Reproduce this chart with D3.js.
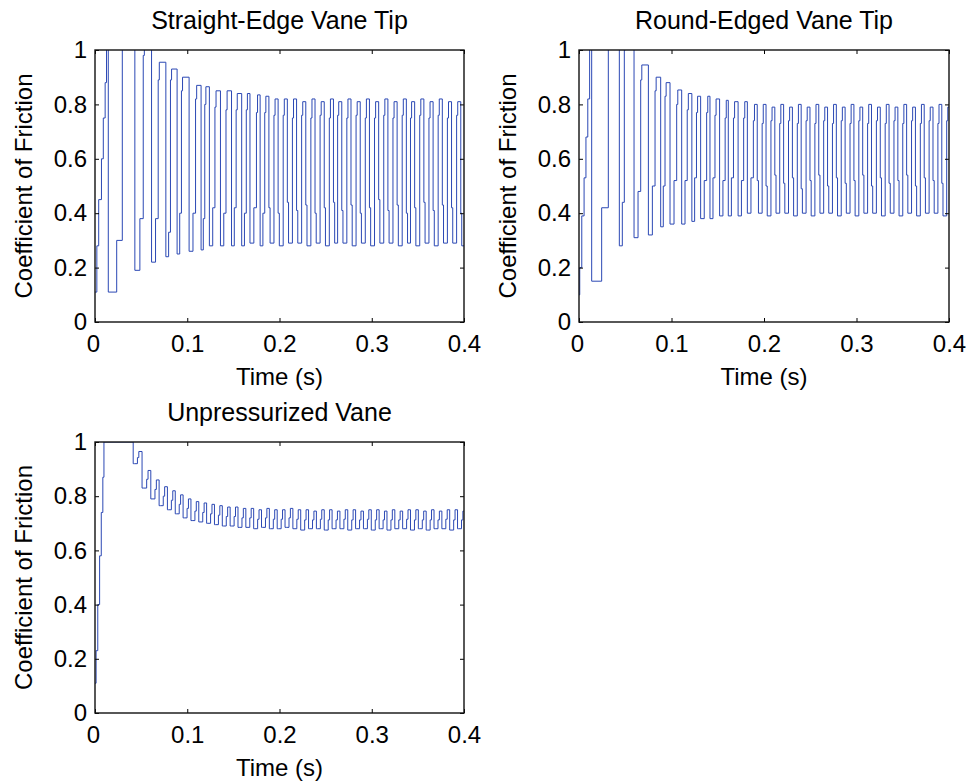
<!DOCTYPE html>
<html>
<head>
<meta charset="utf-8">
<script src="https://d3js.org/d3.v7.min.js"></script>
<style>
  body { margin: 0; background: #fff; }
  svg text { font-family: "Liberation Sans", Arial, sans-serif; fill: #000; }
</style>
</head>
<body>
<svg id="fig" width="970" height="783"></svg>
<script>
  var xTicks = [0, 0.1, 0.2, 0.3, 0.4];
  var yTicks = [0, 0.2, 0.4, 0.6, 0.8, 1];
  var titles = ["Straight-Edge Vane Tip", "Round-Edged Vane Tip", "Unpressurized Vane"];

  // ---- Straight-Edge Vane Tip ----
  // start-up climb (staircase)
  var rampT1 = [0, 0.002, 0.004, 0.007, 0.009, 0.011, 0.0125];
  var rampV1 = [0.11, 0.28, 0.45, 0.60, 0.75, 0.88, 1.05];
  // each cycle: fall -> drop level -> low level -> rise -> shoulder -> peak
  var fallT1 = [0.0144, 0.0432, 0.0613, 0.0768, 0.0890, 0.1020, 0.1150, 0.1240, 0.1360, 0.1480, 0.1590, 0.1680, 0.1790,
    0.1885, 0.1985, 0.2085, 0.2185, 0.2285, 0.2385, 0.2485, 0.2585, 0.2675, 0.2775, 0.2875, 0.2975, 0.3075,
    0.3175, 0.3275, 0.3375, 0.3465, 0.3565, 0.3665, 0.3765, 0.3865, 0.3965];
  var dropV1 = [0.11, 0.19, 0.22, 0.24, 0.25, 0.26, 0.265, 0.28, 0.28, 0.28, 0.28, 0.29, 0.28,
    0.42, 0.40, 0.44, 0.41, 0.43, 0.40, 0.42, 0.44, 0.41, 0.43, 0.40, 0.42, 0.45,
    0.41, 0.43, 0.40, 0.42, 0.44, 0.41, 0.43, 0.42, 0.40];
  var lowV1 = [0.30, 0.38, 0.38, 0.33, 0.40, 0.40, 0.38, 0.42, 0.40, 0.42, 0.40, 0.42, 0.40,
    0.29, 0.28, 0.29, 0.29, 0.28, 0.29, 0.28, 0.29, 0.29, 0.28, 0.29, 0.28, 0.29,
    0.29, 0.28, 0.29, 0.28, 0.29, 0.28, 0.29, 0.29, 0.28];
  var riseT1 = [0.0296, 0.0523, 0.0685, 0.0818, 0.0937, 0.1090, 0.1190, 0.1300, 0.1420, 0.1530, 0.1640, 0.1750,
    0.1840, 0.1940, 0.2040, 0.2140, 0.2240, 0.2340, 0.2440, 0.2540, 0.2630, 0.2730, 0.2830, 0.2930,
    0.3030, 0.3130, 0.3230, 0.3330, 0.3420, 0.3520, 0.3620, 0.3720, 0.3820, 0.3920];
  var shoulderV1 = [1.05, 0.98, 0.89, 0.89, 0.85, 0.82, 0.80, 0.79, 0.78, 0.78, 0.78, 0.77,
    0.77, 0.76, 0.76, 0.75, 0.76, 0.75, 0.76, 0.75, 0.76, 0.75, 0.76, 0.75,
    0.75, 0.76, 0.75, 0.76, 0.75, 0.76, 0.75, 0.76, 0.75, 0.76];
  var peakV1 = [1.05, 1.02, 0.955, 0.93, 0.90, 0.87, 0.865, 0.85, 0.85, 0.84, 0.84, 0.835,
    0.83, 0.82, 0.82, 0.82, 0.81, 0.82, 0.81, 0.82, 0.81, 0.82, 0.81, 0.82,
    0.81, 0.82, 0.81, 0.82, 0.81, 0.82, 0.81, 0.82, 0.81, 0.81];

  // ---- Round-Edged Vane Tip ----
  var rampT2 = [0, 0.0008, 0.003, 0.0055, 0.0075, 0.0095, 0.0115];
  var rampV2 = [0.10, 0.20, 0.39, 0.53, 0.68, 0.82, 1.05];
  var fallT2 = [0.0137, 0.0436, 0.0595, 0.0750, 0.0883, 0.0984, 0.1110, 0.1220, 0.1315, 0.1416, 0.1520, 0.1614, 0.1720, 0.1820,
    0.1927, 0.2022, 0.2117, 0.2212, 0.2307, 0.2402, 0.2497, 0.2592, 0.2687, 0.2782, 0.2877,
    0.2972, 0.3067, 0.3162, 0.3257, 0.3352, 0.3447, 0.3542, 0.3637, 0.3732, 0.3827, 0.3922];
  var dropV2 = [0.15, 0.28, 0.31, 0.32, 0.35, 0.36, 0.36, 0.37, 0.38, 0.38, 0.39, 0.39, 0.39, 0.40,
    0.52, 0.50, 0.54, 0.51, 0.53, 0.49, 0.52, 0.54, 0.50, 0.53, 0.51,
    0.52, 0.54, 0.50, 0.53, 0.51, 0.52, 0.54, 0.50, 0.53, 0.52, 0.51];
  var lowV2 = [0.42, 0.44, 0.48, 0.50, 0.50, 0.52, 0.52, 0.53, 0.52, 0.53, 0.52, 0.53, 0.52, 0.53,
    0.40, 0.39, 0.40, 0.40, 0.39, 0.40, 0.39, 0.40, 0.40, 0.39, 0.40,
    0.39, 0.40, 0.40, 0.39, 0.40, 0.39, 0.40, 0.39, 0.40, 0.40, 0.39];
  var riseT2 = [0.0317, 0.0490, 0.0667, 0.0822, 0.0930, 0.1056, 0.1170, 0.1270, 0.1380, 0.1470, 0.1580, 0.1670, 0.1780, 0.1885,
    0.1980, 0.2075, 0.2170, 0.2265, 0.2360, 0.2455, 0.2550, 0.2645, 0.2740, 0.2835, 0.2930,
    0.3025, 0.3120, 0.3215, 0.3310, 0.3405, 0.3500, 0.3595, 0.3690, 0.3785, 0.3880, 0.3975];
  var shoulderV2 = [1.05, 1.00, 0.89, 0.85, 0.83, 0.80, 0.78, 0.77, 0.77, 0.76, 0.75, 0.75, 0.75, 0.74,
    0.73, 0.74, 0.73, 0.74, 0.73, 0.74, 0.73, 0.74, 0.73, 0.74, 0.73,
    0.74, 0.73, 0.74, 0.73, 0.74, 0.73, 0.74, 0.73, 0.74, 0.73, 0.74];
  var peakV2 = [1.05, 1.02, 0.945, 0.90, 0.88, 0.853, 0.84, 0.83, 0.83, 0.82, 0.815, 0.81, 0.81, 0.80,
    0.80, 0.79, 0.80, 0.79, 0.80, 0.79, 0.80, 0.79, 0.80, 0.79, 0.80,
    0.79, 0.80, 0.79, 0.80, 0.79, 0.80, 0.79, 0.80, 0.79, 0.80, 0.79];

  // ---- Unpressurized Vane ----
  var rampT3 = [0, 0.0012, 0.003, 0.005, 0.0068, 0.0085, 0.0097];
  var rampV3 = [0.11, 0.23, 0.40, 0.58, 0.74, 0.87, 1.0];
  var fallT3 = [0.0414, 0.0510, 0.0605, 0.0695, 0.0785, 0.0870, 0.0955, 0.1040, 0.1125, 0.1210, 0.1295, 0.1380, 0.1465, 0.1550,
    0.1635, 0.1720, 0.1805, 0.1890, 0.1975, 0.2060, 0.2145, 0.2230, 0.2315, 0.2400, 0.2485, 0.2570, 0.2655, 0.2740,
    0.2825, 0.2910, 0.2995, 0.3080, 0.3165, 0.3250, 0.3335, 0.3420, 0.3505, 0.3590, 0.3675, 0.3760, 0.3845, 0.3930];
  var lowV3 = [0.92, 0.83, 0.79, 0.765, 0.75, 0.735, 0.72, 0.71, 0.705, 0.70, 0.695, 0.69, 0.69, 0.685,
    0.685, 0.68, 0.685, 0.68, 0.68, 0.685, 0.68, 0.675, 0.68, 0.68, 0.675, 0.68, 0.68, 0.675,
    0.68, 0.68, 0.675, 0.68, 0.675, 0.68, 0.68, 0.675, 0.68, 0.675, 0.68, 0.68, 0.675, 0.68];
  var riseT3 = [0.0460, 0.0560, 0.0650, 0.0740, 0.0828, 0.0913, 0.0998, 0.1083, 0.1168, 0.1253, 0.1338, 0.1423, 0.1508, 0.1593,
    0.1678, 0.1763, 0.1848, 0.1933, 0.2018, 0.2103, 0.2188, 0.2273, 0.2358, 0.2443, 0.2528, 0.2613, 0.2698, 0.2783,
    0.2868, 0.2953, 0.3038, 0.3123, 0.3208, 0.3293, 0.3378, 0.3463, 0.3548, 0.3633, 0.3718, 0.3803, 0.3888, 0.3973];
  var peakV3 = [0.965, 0.895, 0.86, 0.835, 0.82, 0.805, 0.79, 0.78, 0.775, 0.77, 0.765, 0.76, 0.76, 0.755,
    0.755, 0.75, 0.755, 0.75, 0.75, 0.755, 0.75, 0.75, 0.745, 0.75, 0.75, 0.745, 0.75, 0.75,
    0.745, 0.75, 0.75, 0.745, 0.75, 0.745, 0.75, 0.75, 0.745, 0.75, 0.745, 0.75, 0.75, 0.745];

  // turn the cycle tables into a step-wise polyline
  function buildSteps(rampT, rampV, fallT, dropV, lowV, riseT, shV, pkV) {
    var pts = [[rampT[0], rampV[0]]];
    for (var i = 1; i < rampT.length; i++) {
      pts.push([rampT[i], rampV[i - 1]]);
      pts.push([rampT[i], rampV[i]]);
    }
    var cur = rampV[rampV.length - 1];
    for (var k = 0; k < fallT.length; k++) {
      var f = fallT[k];
      var r = k < riseT.length ? riseT[k] : 0.4;
      pts.push([f, cur]);
      pts.push([f, dropV[k]]);
      var tm = dropV[k] < lowV[k] ? f + 0.6 * (r - f) : f + Math.min(0.0013, 0.3 * (r - f));
      pts.push([tm, dropV[k]]);
      pts.push([tm, lowV[k]]);
      pts.push([r, lowV[k]]);
      cur = lowV[k];
      if (k < riseT.length) {
        var sh = shV ? shV[k] : (lowV[k] + pkV[k]) / 2;
        var ts = r + (shV ? 0.0012 : 0.0015);
        pts.push([r, sh]);
        pts.push([ts, sh]);
        pts.push([ts, pkV[k]]);
        cur = pkV[k];
      }
    }
    pts.push([0.4, cur]);
    return pts;
  }

  var series = [
    buildSteps(rampT1, rampV1, fallT1, dropV1, lowV1, riseT1, shoulderV1, peakV1),
    buildSteps(rampT2, rampV2, fallT2, dropV2, lowV2, riseT2, shoulderV2, peakV2),
    buildSteps(rampT3, rampV3, fallT3, lowV3, lowV3, riseT3, null, peakV3)
  ];

  var panels = [
    { left: 95, right: 464, top: 50, bottom: 322 },
    { left: 579, right: 949, top: 50, bottom: 322 },
    { left: 95, right: 464, top: 442, bottom: 713 }
  ];

  var svg = d3.select("#fig");
  var fontFam = '"Liberation Sans", Arial, sans-serif';

  panels.forEach(function(p, i) {
    var x = d3.scaleLinear().domain([0, 0.4]).range([p.left, p.right]);
    var y = d3.scaleLinear().domain([0, 1]).range([p.bottom, p.top]);

    svg.append("clipPath").attr("id", "clip" + i)
      .append("rect")
      .attr("x", p.left).attr("y", p.top)
      .attr("width", p.right - p.left).attr("height", p.bottom - p.top);

    var line = d3.line().x(function(d) { return x(d[0]); }).y(function(d) { return y(d[1]); });
    svg.append("path")
      .datum(series[i])
      .attr("clip-path", "url(#clip" + i + ")")
      .attr("d", line)
      .attr("fill", "none")
      .attr("stroke", "#2b48b4")
      .attr("stroke-width", 1)
      .attr("stroke-linejoin", "miter");

    // bottom axis with labels
    var gx = svg.append("g")
      .attr("transform", "translate(0," + p.bottom + ")")
      .call(d3.axisBottom(x).tickValues(xTicks).tickSizeInner(-4).tickSizeOuter(0).tickPadding(13)
        .tickFormat(function(d) { return String(d); }));
    gx.select(".domain").remove();
    gx.selectAll("text").filter(function(d) { return d === 0; }).attr("dx", -2);

    var gt = svg.append("g")
      .attr("transform", "translate(0," + p.top + ")")
      .call(d3.axisTop(x).tickValues(xTicks).tickSizeInner(-4).tickSizeOuter(0).tickFormat(""));
    gt.select(".domain").remove();

    var gy = svg.append("g")
      .attr("transform", "translate(" + p.left + ",0)")
      .call(d3.axisLeft(y).tickValues(yTicks).tickSizeInner(-4).tickSizeOuter(0).tickPadding(8)
        .tickFormat(function(d) { return String(d); }));
    gy.select(".domain").remove();

    var gr = svg.append("g")
      .attr("transform", "translate(" + p.right + ",0)")
      .call(d3.axisRight(y).tickValues(yTicks).tickSizeInner(-4).tickSizeOuter(0).tickFormat(""));
    gr.select(".domain").remove();

    svg.selectAll("g").attr("font-size", 24).attr("font-family", fontFam);
    svg.selectAll(".tick line").attr("stroke", "#000");

    svg.append("rect")
      .attr("x", p.left).attr("y", p.top)
      .attr("width", p.right - p.left).attr("height", p.bottom - p.top)
      .attr("fill", "none").attr("stroke", "#111").attr("stroke-width", 1.4);

    var cx = (p.left + p.right) / 2;
    svg.append("text")
      .attr("x", cx).attr("y", p.top - 21)
      .attr("text-anchor", "middle")
      .style("font-size", "25px")
      .text(titles[i]);

    svg.append("text")
      .attr("x", cx).attr("y", p.bottom + 63)
      .attr("text-anchor", "middle")
      .style("font-size", "24px")
      .text("Time (s)");

    svg.append("text")
      .attr("transform", "translate(" + (p.left - 63) + "," + ((p.top + p.bottom) / 2) + ") rotate(-90)")
      .attr("text-anchor", "middle")
      .style("font-size", "24px")
      .text("Coefficient of Friction");
  });
</script>
</body>
</html>
